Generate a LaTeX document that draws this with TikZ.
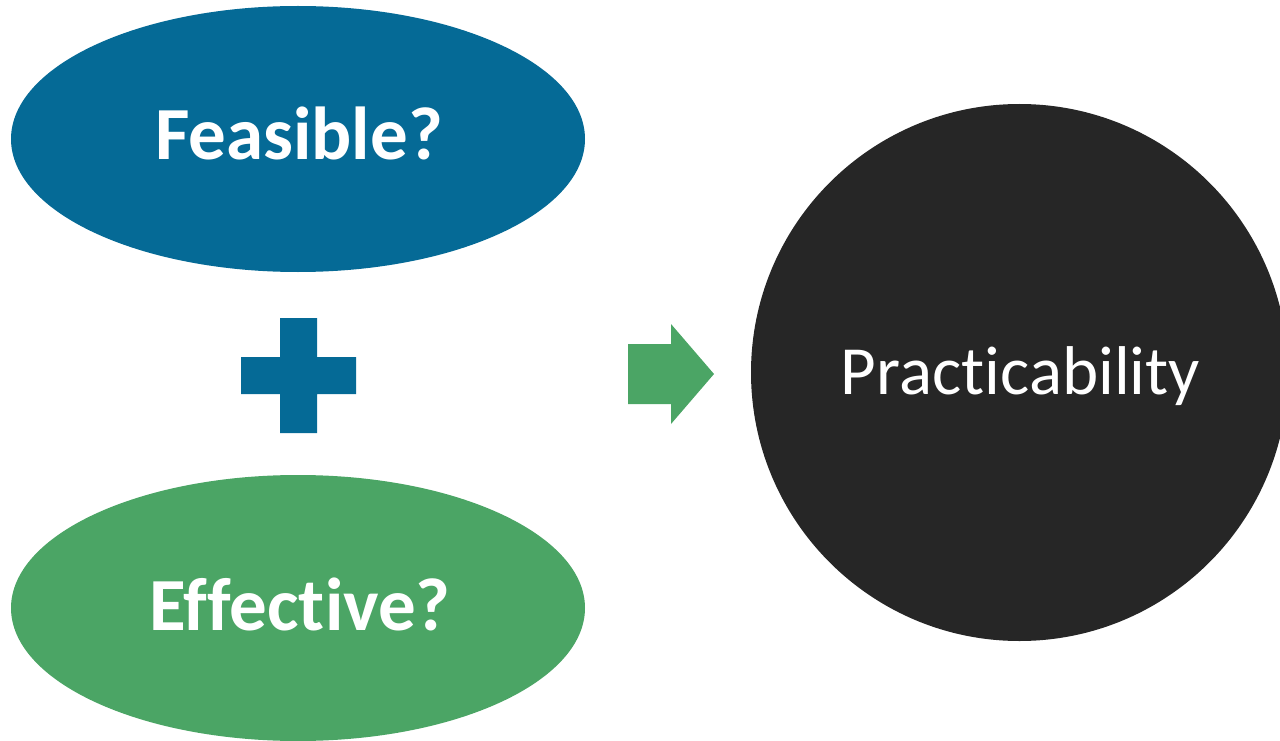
\documentclass[tikz,border=0pt]{standalone}
\usepackage{fontspec}
\setmainfont{Carlito}[Ligatures={NoCommon}]
\definecolor{fblue}{HTML}{056A96}
\definecolor{fgreen}{HTML}{4BA565}
\definecolor{fdark}{HTML}{262626}
\begin{document}
\begin{tikzpicture}[x=1pt,y=-1pt,
  bigq/.style={text=white,anchor=base,inner sep=0pt,font=\fontsize{75}{75}\selectfont\bfseries},
  res/.style={text=white,anchor=base,inner sep=0pt,font=\fontsize{69}{69}\selectfont},
]
\useasboundingbox (0,0) rectangle (1280,741);
\begin{scope}
\clip (0,0) rectangle (1280,741);
\fill[fblue] (298,139) ellipse [x radius=287, y radius=133];
\fill[fgreen] (298,608) ellipse [x radius=287, y radius=133];
\fill[fdark] (1019.5,372.5) circle [radius=268.5];
\end{scope}
\node[bigq] (feas) at (299,160) {Feasible?};
\node[bigq] (eff) at (300,630) {Effective?};
\node[res] (prac) at (1020.5,394) {Practicability};
\fill[fblue] (280,318) -- (317,318) -- (317,357) -- (356,357) -- (356,394) -- (317,394) -- (317,433) -- (280,433) -- (280,394) -- (241,394) -- (241,357) -- (280,357) -- cycle;
\fill[fgreen] (628,344) -- (671,344) -- (671,324) -- (714,374) -- (671,424) -- (671,404) -- (628,404) -- cycle;
\end{tikzpicture}
\end{document}
